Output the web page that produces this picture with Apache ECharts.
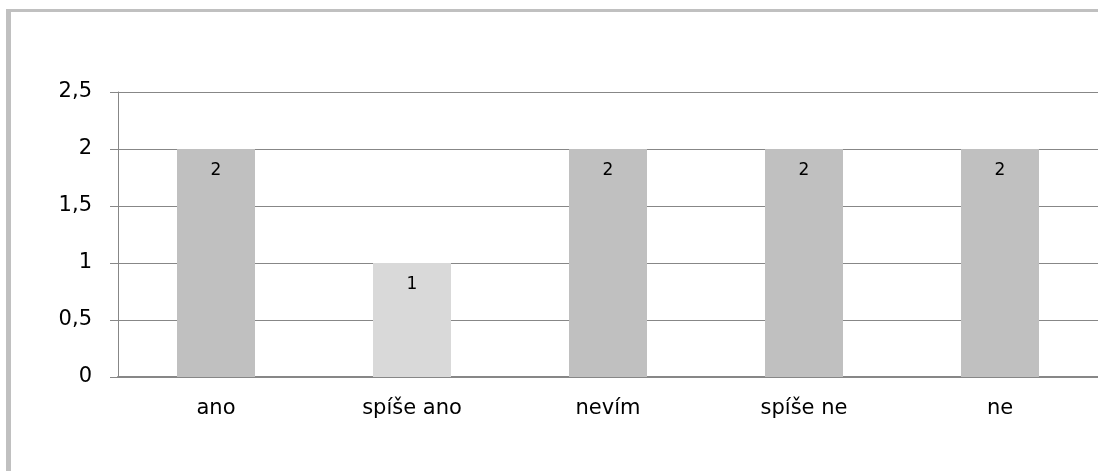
<!DOCTYPE html>
<html>
<head>
<meta charset="utf-8">
<script src="https://cdn.jsdelivr.net/npm/echarts@6/dist/echarts.min.js"></script>
<style>
  html, body { margin: 0; padding: 0; background: #ffffff; }
  #chart { width: 1098px; height: 471px; }
</style>
</head>
<body>
<div id="chart"></div>
<script>
// Odpovědi a počty
const categories = ['ano', 'spíše ano', 'nevím', 'spíše ne', 'ne'];
const counts = [2, 1, 2, 2, 2];
const barColors = ['#c0c0c0', '#d9d9d9', '#c0c0c0', '#c0c0c0', '#c0c0c0'];
const yMin = 0;
const yMax = 2.5;
const yStep = 0.5;

const font = 'DejaVu Sans, Verdana, sans-serif';
const chart = echarts.init(document.getElementById('chart'), null, { renderer: 'canvas' });

chart.setOption({
  animation: false,
  backgroundColor: '#ffffff',
  graphic: [
    // rám kolem grafu (horní a levá hrana)
    { type: 'rect', shape: { x: 6, y: 9, width: 1092, height: 3 }, style: { fill: '#c0c0c0' }, silent: true },
    { type: 'rect', shape: { x: 6, y: 9, width: 5, height: 462 }, style: { fill: '#c0c0c0' }, silent: true }
  ],
  grid: { left: 118, top: 92, width: 984, height: 285, containLabel: false },
  xAxis: {
    type: 'category',
    data: categories,
    axisLine: { show: true, lineStyle: { color: '#878787', width: 2 } },
    axisTick: { show: false },
    axisLabel: { color: '#000000', fontFamily: font, fontSize: 21, margin: 21 },
    splitLine: { show: false }
  },
  yAxis: {
    type: 'value',
    min: yMin,
    max: yMax,
    interval: yStep,
    axisLine: { show: true, lineStyle: { color: '#878787', width: 1 } },
    axisTick: { show: true, length: 8, inside: false, lineStyle: { color: '#878787', width: 1 } },
    axisLabel: {
      color: '#000000', fontFamily: font, fontSize: 21, margin: 26,
      formatter: v => String(v).replace('.', ',')
    },
    splitLine: { show: true, lineStyle: { color: '#878787', width: 1 } }
  },
  series: [{
    type: 'bar',
    data: counts.map((v, i) => ({ value: v, itemStyle: { color: barColors[i] } })),
    barWidth: 78,
    label: {
      show: true,
      position: 'insideTop',
      distance: 13,
      color: '#000000',
      fontFamily: font,
      fontSize: 17
    }
  }]
});
</script>
</body>
</html>
